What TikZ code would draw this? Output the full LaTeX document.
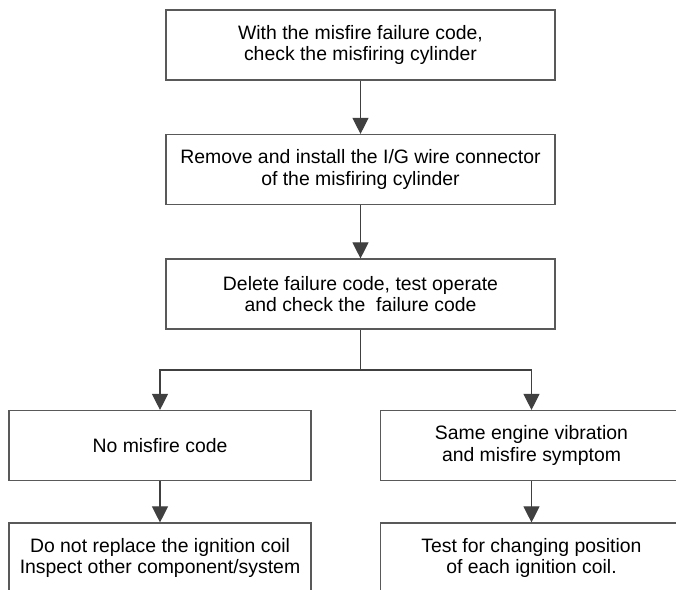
\documentclass[tikz,border=0pt]{standalone}
\usepackage{fontspec}
\setmainfont{Liberation Sans}
\usetikzlibrary{arrows.meta}

\tikzset{
  box/.style={draw=black!65, line width=0.8pt, align=center, inner sep=0pt,
    minimum height=1.75cm, font=\fontsize{13.8pt}{15pt}\selectfont},
  widebox/.style={box, minimum width=9.725cm},
  halfbox/.style={box, minimum width=7.55cm},
  flow/.style={draw=black!75, line width=0.8pt, -{Triangle[length=11.5pt,width=11.5pt]}}
}

\begin{document}
\begin{tikzpicture}[x=0.025cm,y=-0.025cm]
  % page frame, 676 x 590 px
  \clip (0,0) rectangle (676,590);
  \fill[white] (0,0) rectangle (676,590);
  \useasboundingbox (0,0) rectangle (676,590);

  % main column
  \node[widebox] (check) at (360.5,45) {With the misfire failure code,\\ check the misfiring cylinder};
  \node[widebox] (swap)  at (360.5,169.5) {Remove and install the I/G wire connector\\ of the misfiring cylinder};
  \node[widebox] (test)  at (360.5,294) {Delete failure code, test operate\\ and check the~ failure code};

  % the two outcomes
  \node[halfbox] (nocode) at (160,445.5) {No misfire code};
  \node[halfbox] (same)   at (531.5,445.5) {Same engine vibration\\ and misfire symptom};

  \node[halfbox] (other)  at (160,558) {Do not replace the ignition coil\\ Inspect other component/system};
  \node[halfbox] (coil)   at (531.5,558) {Test for changing position\\ of each ignition coil.};

  \coordinate (fork) at (360.5,370);

  \draw[flow] (check) -- (swap);
  \draw[flow] (swap) -- (test);
  \draw[flow,-] (test) -- (fork);
  \draw[flow] (fork) -| (nocode);
  \draw[flow] (fork) -| (same);
  \draw[flow] (nocode) -- (other);
  \draw[flow] (same) -- (coil);

\end{tikzpicture}
\end{document}
